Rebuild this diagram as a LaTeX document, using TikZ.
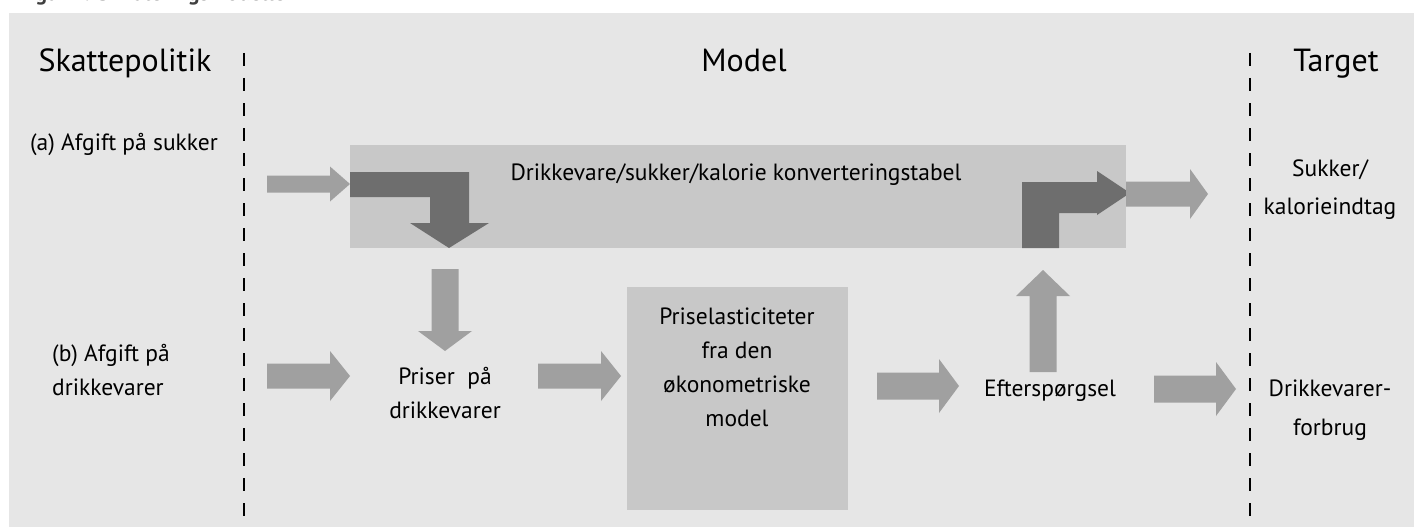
\documentclass[tikz,border=0pt]{standalone}
\usepackage{fontspec}
\setmainfont{PT Sans}
\usetikzlibrary{calc,positioning}
\definecolor{bggray}{HTML}{E6E6E6}
\definecolor{boxgray}{HTML}{C8C8C8}
\definecolor{arrowgray}{HTML}{A0A0A0}
\definecolor{darkgray}{HTML}{6E6E6E}
\tikzset{
  heading/.style  = {font=\fontsize{32}{36}\selectfont, inner sep=0pt},
  txt/.style      = {font=\fontsize{23.5}{34}\selectfont, align=center, inner sep=0pt},
  figtitle/.style = {font=\fontsize{22}{26}\selectfont\bfseries, text=black!75, inner sep=0pt},
  divider/.style  = {line width=2.5pt, dash pattern=on 13pt off 12pt},
  greybox/.style  = {fill=boxgray, inner sep=0pt, anchor=north west},
  % fat block arrow: shaft half width / head half width / head length
  fat/.style n args={3}{to path={
      ($(\tikztostart)!#1!90:(\tikztotarget)$)
   -- ($(\tikztotarget)!#3!(\tikztostart)!#1!90:(\tikztotarget)$)
   -- ($(\tikztotarget)!#3!(\tikztostart)!#2!90:(\tikztotarget)$)
   -- (\tikztotarget)
   -- ($(\tikztotarget)!#3!(\tikztostart)!#2!-90:(\tikztotarget)$)
   -- ($(\tikztotarget)!#3!(\tikztostart)!#1!-90:(\tikztotarget)$)
   -- ($(\tikztostart)!#1!-90:(\tikztotarget)$) -- cycle}},
  thinfat/.style  = {fat={8.5pt}{17.5pt}{20pt}},
  widefat/.style  = {fat={12.5pt}{25pt}{20pt}},
  tallfat/.style  = {fat={13.5pt}{27pt}{20pt}}
}

\begin{document}
\begin{tikzpicture}[x=1pt, y=-1pt]
  \useasboundingbox (0,0) rectangle (1414,527);
  \fill[bggray] (9,13) rectangle (1414,527);
  \node[figtitle, anchor=base west] (title) at (18,1) {Figur 2. Simuleringsmodellen};

  % column dividers
  \draw[divider] (244,53) -- (244,516);
  \draw[divider] (1250,53) -- (1250,516);

  % headings
  \node[heading, anchor=base] (polhead) at (125,71) {Skattepolitik};
  \node[heading, anchor=base] (modhead) at (744,71) {Model};
  \node[heading, anchor=base] (tgthead) at (1336,71) {Target};

  % boxes
  \node[greybox, minimum width=776pt, minimum height=103pt] (convbox) at (350,145) {};
  \node[greybox, minimum width=221pt, minimum height=223pt] (elastic) at (627,287) {};

  % texts (base = last line)
  \node[txt, anchor=base] (convlbl) at (736,180) {Drikkevare/sukker/kalorie konverteringstabel};
  \node[txt, anchor=base] (taxa) at (124,150) {(a) Afgift på sukker};
  \node[txt, anchor=base west, align=left] (taxb) at (52,395) {(b) Afgift på\\drikkevarer};
  \node[txt, anchor=base] (prices) at (445,418) {Priser\ \ på\\drikkevarer};
  \node[txt, anchor=base] (elastlbl) at (737,426) {Priselasticiteter\\fra den\\økonometriske\\model};
  \node[txt, anchor=base] (demand) at (1050,396) {Efterspørgsel};
  \node[txt, anchor=base, font=\fontsize{23.5}{38}\selectfont] (sugar) at (1330,214) {Sukker/\\kalorieindtag};
  \node[txt, anchor=base, font=\fontsize{23.5}{39}\selectfont] (consum) at (1330,435) {Drikkevarer-\\forbrug};

  % bent arrows inside the conversion table
  \fill[darkgray] (350,172) -- (469,172) -- (469,223) -- (489,223) -- (449,248)
    -- (410,223) -- (430,223) -- (430,197) -- (350,197) -- cycle;
  \fill[darkgray] (1022,248) -- (1022,182) -- (1097,182) -- (1097,171) -- (1130,193)
    -- (1097,215) -- (1097,213) -- (1059,213) -- (1059,248) -- cycle;

  % arrow end points
  \coordinate (aS) at (267,184);  \coordinate (aT) at (350,184);
  \coordinate (bS) at (267,376);  \coordinate (bT) at (350,376);
  \coordinate (pS) at (538,376);  \coordinate (pT) at (621,376);
  \coordinate (cS) at (445,269);  \coordinate (cT) at (445,351);
  \coordinate (eS) at (877,386);  \coordinate (eT) at (959,386);
  \coordinate (uS) at (1043,372); \coordinate (uT) at (1043,270);
  \coordinate (dS) at (1154,389); \coordinate (dT) at (1236,389);
  \coordinate (sS) at (1126,194); \coordinate (sT) at (1208,194);

  % light block arrows
  \fill[arrowgray] (aS) to[thinfat] (aT);
  \fill[arrowgray] (bS) to[widefat] (bT);
  \fill[arrowgray] (pS) to[widefat] (pT);
  \fill[arrowgray] (cS) to[tallfat] (cT);
  \fill[arrowgray] (eS) to[tallfat] (eT);
  \fill[arrowgray] (uS) to[fat={13.5pt}{27pt}{26pt}] (uT);
  \fill[arrowgray] (dS) to[tallfat] (dT);
  \fill[arrowgray] (sS) to[fat={12.5pt}{25pt}{18pt}] (sT);
\end{tikzpicture}
\end{document}
